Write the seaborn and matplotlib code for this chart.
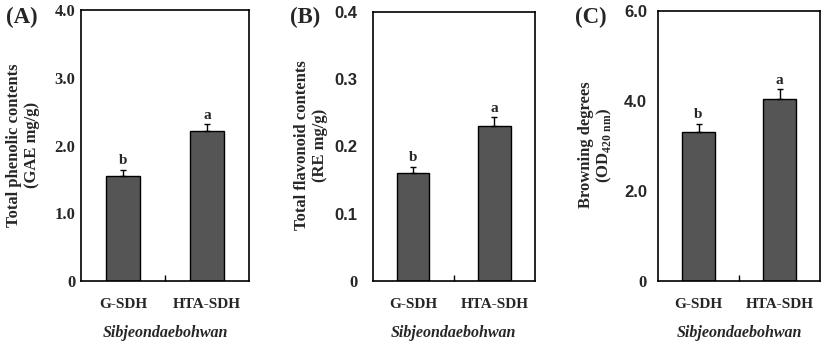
import matplotlib
matplotlib.use("Agg")
import matplotlib.pyplot as plt
import seaborn as sns
import pandas as pd
import numpy as np

categories = ["G-SDH", "HTA-SDH"]
phenolic = [1.55, 2.21]
phenolic_err = [0.09, 0.10]
flavonoid = [0.160, 0.230]
flavonoid_err = [0.009, 0.013]
browning = [3.32, 4.04]
browning_err = [0.17, 0.22]
letters = ["b", "a"]

panels = [
    dict(tag="(A)", vals=phenolic, err=phenolic_err, ymax=4.0,
         yticks=[0, 1.0, 2.0, 3.0, 4.0], yticklabels=["0", "1.0", "2.0", "3.0", "4.0"],
         ylabel="Total phenolic contents\n(GAE mg/g)", sans=False),
    dict(tag="(B)", vals=flavonoid, err=flavonoid_err, ymax=0.4,
         yticks=[0, 0.1, 0.2, 0.3, 0.4], yticklabels=["0", "0.1", "0.2", "0.3", "0.4"],
         ylabel="Total flavonoid contents\n(RE mg/g)", sans=True),
    dict(tag="(C)", vals=browning, err=browning_err, ymax=6.0,
         yticks=[0, 2.0, 4.0, 6.0], yticklabels=["0", "2.0", "4.0", "6.0"],
         ylabel="Browning degrees\n(OD$_{\\mathbf{420\\ nm}}$)", sans=True),
]

sns.set_theme(style="white")
plt.rcParams["font.family"] = ["Liberation Serif", "DejaVu Serif"]
plt.rcParams["mathtext.fontset"] = "custom"
plt.rcParams["mathtext.rm"] = "Liberation Serif"
plt.rcParams["mathtext.bf"] = "Liberation Serif:bold"

W, H = 827, 349
fig = plt.figure(figsize=(W / 100, H / 100), dpi=100)

boxes = [(81, 249, 10), (372.5, 535, 11.5), (658, 820, 11)]
ylab_x = [23, 311, 596]
tag_x = [6, 290, 575]
ypads = [4, 11, 8]

for p, (l, r, t), lx, tx, ypad in zip(panels, boxes, ylab_x, tag_x, ypads):
    b = 281
    ax = fig.add_axes([l / W, (H - b) / H, (r - l) / W, (b - t) / H])
    df = pd.DataFrame({"cat": categories, "val": p["vals"]})
    sns.barplot(data=df, x="cat", y="val", color="#555555", saturation=1,
                edgecolor="black", linewidth=1.0, width=0.4, ax=ax)
    x = np.arange(len(categories))
    ax.errorbar(x, p["vals"], yerr=[np.zeros(len(x)), p["err"]], fmt="none",
                ecolor="black", elinewidth=1.0, capsize=2.5, capthick=1.0)
    for xi, v, e, lt in zip(x, p["vals"], p["err"], letters):
        ax.annotate(lt, (xi, v + e), xytext=(0, 2), textcoords="offset points",
                    ha="center", va="bottom", fontsize=11, fontweight="bold",
                    family="Liberation Serif")
    ax.set_ylim(0, p["ymax"])
    ax.set_xlim(-0.5, 1.5)
    ax.set_yticks(p["yticks"])
    ax.set_yticklabels(p["yticklabels"])
    for lab, txt in zip(ax.get_yticklabels(), p["yticklabels"]):
        lab.set_fontweight("bold")
        lab.set_fontsize(12)
        if p["sans"] and txt != "0":
            lab.set_family("Liberation Sans")
        else:
            lab.set_family("Liberation Serif")
    ax.tick_params(axis="y", length=0, pad=ypad)
    ax.tick_params(axis="x", which="major", length=0, pad=12)
    ax.set_xticks([0.5], minor=True)
    ax.tick_params(axis="x", which="minor", bottom=True, direction="in",
                   length=4, width=1, color="black")
    for lab in ax.get_xticklabels():
        lab.set_fontweight("bold")
        lab.set_fontsize(11)
    ax.set_xlabel("Sibjeondaebohwan", fontsize=11.5, fontweight="bold",
                  fontstyle="italic", labelpad=10)
    ax.set_ylabel("")
    for s in ax.spines.values():
        s.set_visible(True)
        s.set_color("black")
        s.set_linewidth(1.2)
    fig.text(lx / W, 1 - 145 / H, p["ylabel"], rotation=90, ha="center", va="center",
             fontsize=12, fontweight="bold", multialignment="center", linespacing=1.1)
    fig.text(tx / W, 1 - 17 / H, p["tag"], ha="left", va="center",
             fontsize=16.5, fontweight="bold")

fig.savefig("out.png", dpi=100, facecolor="white")
